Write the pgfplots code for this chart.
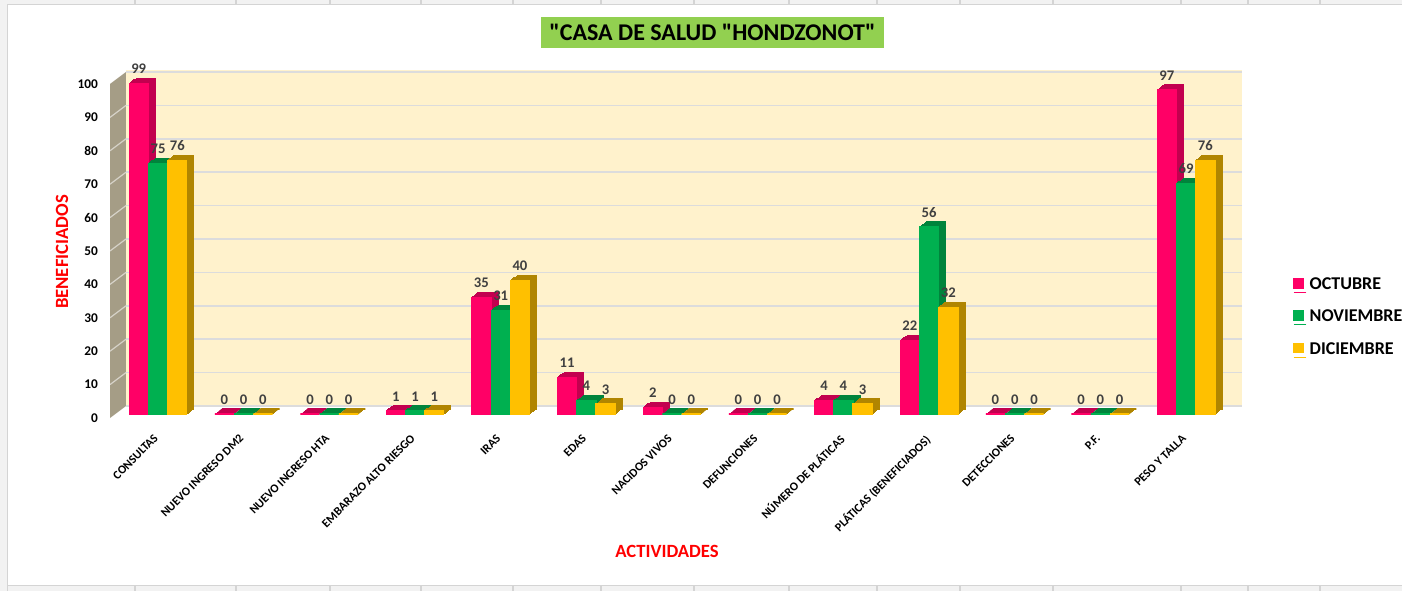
\documentclass[border=0pt]{standalone}
\usepackage{pgfplots}
\pgfplotsset{compat=1.18}
\usepackage{pgfplotstable}
\usepackage{fontspec}
\setmainfont{Carlito}
\newfontfamily\plainfont{Carlito}
\definecolor{octc}{HTML}{FF0066}
\definecolor{octd}{HTML}{C2004F}
\definecolor{novc}{HTML}{00B050}
\definecolor{novd}{HTML}{00843C}
\definecolor{dicc}{HTML}{FFC000}
\definecolor{dicd}{HTML}{B08500}
\definecolor{wallc}{HTML}{FFF2CC}
\definecolor{sidec}{HTML}{A59D86}
\definecolor{gridc}{HTML}{DCDCDC}
\definecolor{titlec}{HTML}{92D050}
\definecolor{labc}{HTML}{404040}
\definecolor{cellc}{HTML}{F2F2F2}
\definecolor{celld}{HTML}{D4D4D4}

\pgfplotstableread{
x oct nov dic
0 99 75 76
1 0 0 0
2 0 0 0
3 1 1 1
4 35 31 40
5 11 4 3
6 2 0 0
7 0 0 0
8 4 4 3
9 22 56 32
10 0 0 0
11 0 0 0
12 97 69 76
}\datatable

% #1 column, #2 front colour, #3 side colour, #4 bar shift (axis units), #5 same shift in pt, #6 legend text
\newcommand{\barseries}[6]{%
  \pgfplotsinvokeforeach{6,5,4,3,2,1}{%
    \addplot[ybar, bar width=0.225, bar shift=#4, fill=#3, draw=#3, line width=0.8pt,
      forget plot, xshift=##1*0.875pt, yshift=-6pt+##1*0.625pt]
      table[x=x,y=#1]{\datatable};
  }
  \addplot[ybar, bar width=0.225, bar shift=#4, fill=#2, draw=#2, line width=0.8pt,
    yshift=-6pt,
    legend image code/.code={\fill[#2] (0pt,3.5pt) rectangle (7pt,10.5pt); \path (0pt,0pt) -- (9.5pt,0pt);},
    nodes near coords,
    nodes near coords style={font=\bfseries\fontsize{11}{12}\selectfont, text=labc,
      anchor=south, xshift=#5, yshift=3.5pt}]
    table[x=x,y=#1]{\datatable};
  \addlegendentry{#6}
}

\begin{document}
\begin{tikzpicture}
\begin{scope}[x=0.75pt,y=-0.75pt]
  % spreadsheet cells around the chart
  \fill[cellc] (0,0) rectangle (1402,4);
  \fill[cellc] (0,585) rectangle (1402,591);
  \fill[cellc] (0,0) rectangle (7,591);
  \draw[celld, line width=0.75pt] (7,591) -- (7,4.5) -- (1402,4.5);
  \draw[celld, line width=0.75pt] (7,585) -- (1402,585);
  \foreach \xx in {135,236,330,421,513,601,694,789,877,960,1053,1181,1248,1320}{
    \draw[celld, line width=1pt] (\xx,0) -- (\xx,4);
    \draw[celld, line width=1pt] (\xx,585) -- (\xx,591);
  }
  % side wall
  \fill[sidec] (110,418) -- (126,406) -- (126,72) -- (110,84) -- cycle;
  \foreach \v in {10,20,...,90}{
    \draw[white, opacity=0.55, line width=0.9pt] (110,418-3.34*\v) -- (126,406-3.34*\v);
  }
\end{scope}

\begin{axis}[
  at={(94.5pt,-304.5pt)}, anchor=south west,
  scale only axis, width=837pt, height=252pt,
  xmin=-0.3735, xmax=12.653, ymin=0, ymax=100.6,
  axis line style={draw=none}, tick style={draw=none},
  axis background/.style={fill=wallc},
  ymajorgrids, grid style={gridc, line width=1.1pt},
  ytick={0,10,...,100},
  /pgf/number format/assume math mode=true,
  yticklabel style={font=\bfseries\fontsize{10}{12}\selectfont, text=black,
    anchor=east, xshift=-17.5pt, yshift=-9pt},
  xtick={0,...,12},
  xticklabels={CONSULTAS, NUEVO INGRESO DM2, NUEVO INGRESO HTA, EMBARAZO ALTO RIESGO,
    IRAS, EDAS, NACIDOS VIVOS, DEFUNCIONES, NÚMERO DE PLÁTICAS,
    {PLÁTICAS (BENEFICIADOS)}, DETECCIONES, P.F., PESO Y TALLA},
  xticklabel style={font=\bfseries\fontsize{9}{10}\selectfont, text=black,
    xshift=-3.75pt, yshift=-20.5pt, rotate=45, anchor=north east, inner sep=0pt},
  clip=false,
  legend style={draw=none, fill=none, at={(1.0457,0.265)}, anchor=west,
    inner sep=0pt, row sep=9.75pt, font=\bfseries\fontsize{13.5}{15}\selectfont},
  legend cell align=left,
]
\barseries{oct}{octc}{octd}{-0.225}{-14.46pt}{OCTUBRE}
\barseries{nov}{novc}{novd}{0}{0pt}{NOVIEMBRE}
\barseries{dic}{dicc}{dicd}{0.225}{14.46pt}{DICIEMBRE}
\end{axis}

\begin{scope}[x=0.75pt,y=-0.75pt]
  \node[fill=titlec, minimum width=257pt, minimum height=23pt, inner sep=0pt,
    font=\plainfont\bfseries\fontsize{18}{20}\selectfont] at (712.5,32.5) {"CASA DE SALUD "HONDZONOT"};
  \node[rotate=90, text=red, font=\bfseries\fontsize{14}{16}\selectfont] at (62,252) {BENEFICIADOS};
  \node[text=red, font=\bfseries\fontsize{14}{16}\selectfont] at (667,551) {ACTIVIDADES};
  \pgfresetboundingbox
  \path[use as bounding box] (0,0) rectangle (1402,591);
\end{scope}
\end{tikzpicture}
\end{document}
